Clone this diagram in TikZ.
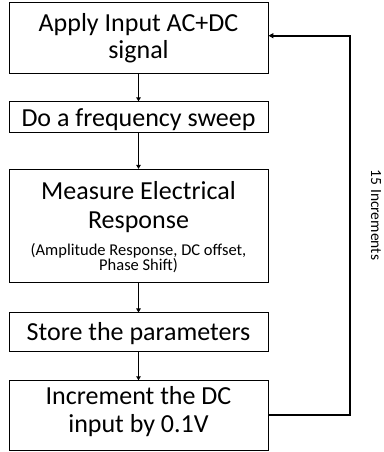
\documentclass[tikz,border=0pt]{standalone}
\usepackage{fontspec}
\setmainfont{Carlito}
\usetikzlibrary{arrows.meta}
\begin{document}
\begin{tikzpicture}[x=1pt,y=-1pt,
  box/.style={draw=black, line width=0.8pt, minimum width=259pt, inner sep=0pt},
  txt/.style={anchor=base, inner sep=0pt, font=\fontsize{26}{28}\selectfont},
  small/.style={anchor=base, inner sep=0pt, font=\fontsize{16.5}{15}\selectfont},
  flow/.style={line width=1.3pt, -{Triangle[length=4pt,width=4.5pt]}},
  loop/.style={line width=1.8pt, -{Triangle[length=5pt,width=5pt]}}]
\useasboundingbox (0,0) rectangle (383,452);
\node[box, minimum height=71pt] (b1) at (138.5,37.5) {};
\node[box, minimum height=30.5pt] (b2) at (138.5,117) {};
\node[box, minimum height=113.4pt] (b3) at (138.5,226) {};
\node[box, minimum height=38.3pt] (b4) at (138.5,332) {};
\node[box, minimum height=70pt] (b5) at (138.5,415.7) {};
\node[txt] (t1a) at (138.5,31.7) {Apply Input AC+DC};
\node[txt] (t1b) at (138.5,58.5) {signal};
\node[txt] (t2) at (138.5,126) {Do a frequency sweep};
\node[txt] (t3a) at (138.5,199.7) {Measure Electrical};
\node[txt] (t3b) at (138.5,228) {Response};
\node[small] (t3c) at (138.5,255) {(Amplitude Response, DC offset,};
\node[small] (t3d) at (138.5,270) {Phase Shift)};
\node[txt] (t4) at (138.5,340.5) {Store the parameters};
\node[txt] (t5a) at (138.5,404) {Increment the DC};
\node[txt] (t5b) at (138.5,432) {input by 0.1V};
\draw[flow] (b1) -- (b2);
\draw[flow] (b2) -- (b3);
\draw[flow] (b3) -- (b4);
\draw[flow] (b4) -- (b5);
\coordinate (c1) at (350,415.3);
\coordinate (c2) at (350,35.7);
\draw[loop] (b5.east |- c1) -- (c1) -- (c2) -- (b1.east |- c2);
\node[rotate=-90, inner sep=0pt, font=\fontsize{15.5}{18}\selectfont] (lbl) at (376,215) {15 Increments};
\end{tikzpicture}
\end{document}
